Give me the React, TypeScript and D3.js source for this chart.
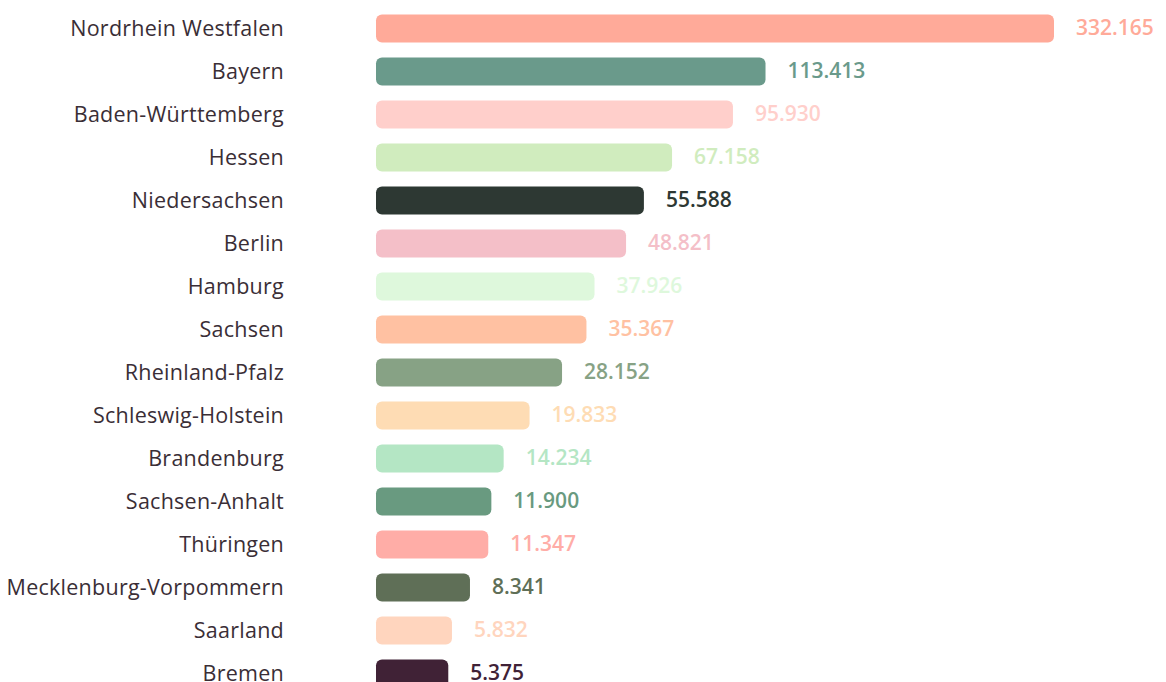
import React from "react";
import * as d3 from "d3";

const states = [
  "Nordrhein Westfalen", "Bayern", "Baden-Württemberg", "Hessen", "Niedersachsen",
  "Berlin", "Hamburg", "Sachsen", "Rheinland-Pfalz", "Schleswig-Holstein",
  "Brandenburg", "Sachsen-Anhalt", "Thüringen", "Mecklenburg-Vorpommern", "Saarland", "Bremen",
];
const values = [
  332165, 113413, 95930, 67158, 55588, 48821, 37926, 35367, 28152, 19833,
  14234, 11900, 11347, 8341, 5832, 5375,
];
const colors = [
  "#FFAA99", "#6A9A8B", "#FFCFCB", "#D0ECBE", "#2D3833", "#F4BFC8", "#DEF8DC", "#FFC1A2",
  "#87A285", "#FEDCB4", "#B4E6C4", "#699A80", "#FFADA7", "#5F6F57", "#FFD5BE", "#402236",
];

const W = 1166;
const H = 682;
const X0 = 376;
const FONT = "'Open Sans', Lato, sans-serif";

export default function App() {
  const x = d3.scaleSqrt().domain([0, d3.max(values) as number]).range([X0 - 16, X0 + 678]);
  const y = d3.scaleBand<string>().domain(states).range([7, 695]).paddingInner(0.35).paddingOuter(0.175);
  const fmt = (v: number) => d3.format(",")(v).replace(/,/g, ".");
  const bh = 28;
  return (
    <svg width={W} height={H} style={{ position: "absolute", left: 0, top: 0, background: "#fff" }}>
      {states.map((s, i) => {
        const cy = (y(s) as number) + y.bandwidth() / 2;
        const xe = x(values[i]);
        return (
          <g key={s}>
            <text x={284} y={cy} dy="0.33em" textAnchor="end" fontFamily={FONT} fontSize={21.5} letterSpacing={0.25} fill="#3a2e36">
              {s}
            </text>
            <rect x={X0} y={cy - bh / 2} width={xe - X0} height={bh} rx={6} ry={6} fill={colors[i]} />
            <text x={xe + 22} y={cy} dy="0.33em" fontFamily={FONT} fontSize={21} fontWeight={600} fill={colors[i]}>
              {fmt(values[i])}
            </text>
          </g>
        );
      })}
    </svg>
  );
}
